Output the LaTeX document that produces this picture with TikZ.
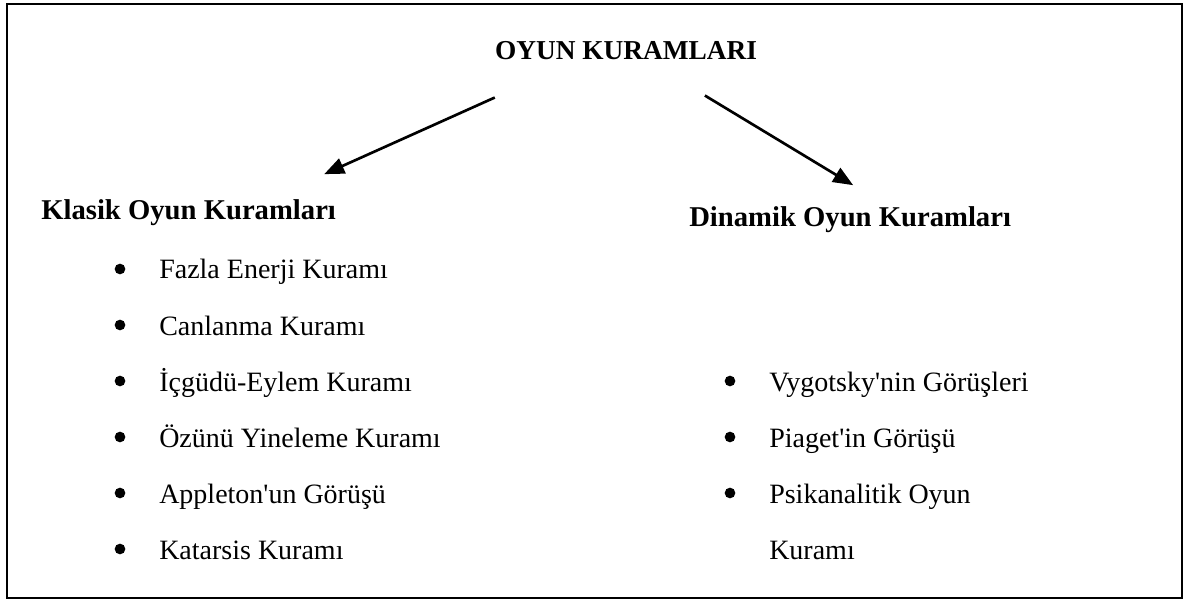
\documentclass[tikz,border=0pt]{standalone}
\usepackage{fontspec}
\setmainfont{Liberation Serif}[Ligatures=TeXOff]
\usetikzlibrary{arrows.meta}

\tikzset{
  head/.style={font=\fontsize{21.5}{26}\selectfont\bfseries, inner sep=0.75pt},
  item/.style={font=\fontsize{21}{26}\selectfont, inner sep=0.75pt, anchor=base west},
  bul/.style={circle, fill, inner sep=0pt, minimum size=8pt},
  arr/.style={line width=2pt, -{Triangle[length=15pt,width=12pt]}}
}

\begin{document}
\begin{tikzpicture}[x=0.75pt,y=0.75pt,yscale=-1,xscale=1]
\useasboundingbox (0,0) rectangle (1189,602);

%Shape: Frame
\draw [line width=1.6pt] (7,4) rectangle (1182,598);

% Text Node: title
\draw (626,60) node [head, anchor=base, font=\fontsize{20.5}{24}\selectfont\bfseries] (title) {OYUN KURAMLARI};
% Text Node: left heading
\draw (40,220) node [head, anchor=base west] (klasik) {Klasik Oyun Kuramları};
% Text Node: right heading
\draw (688,227) node [head, anchor=base west] (dinamik) {Dinamik Oyun Kuramları};

% Arrows
\draw [arr] ([xshift=0.75pt,yshift=27pt]title.south west) -- ([xshift=-9.75pt,yshift=-18.5pt]klasik.north east);
\draw [arr] ([xshift=-40pt,yshift=25.5pt]title.south east) -- ([xshift=2.25pt,yshift=-15.5pt]dinamik.north);

% Left list
\foreach \txt [count=\i] in {Fazla Enerji Kuramı, Canlanma Kuramı, İçgüdü-Eylem Kuramı, Özünü Yineleme Kuramı, Appleton'un Görüşü, Katarsis Kuramı}
{
  \draw (120,{269+56*(\i-1)}) node [bul] (kb\i) {};
  \draw (158,{279+56*(\i-1)}) node [item] (k\i) {\txt};
}

% Right list
\foreach \txt [count=\i] in {Vygotsky'nin Görüşleri, Piaget'in Görüşü, Psikanalitik Oyun}
{
  \draw (730,{381+56*(\i-1)}) node [bul] (db\i) {};
  \draw (768,{391+56*(\i-1)}) node [item] (d\i) {\txt};
}
\draw (768,559) node [item] (d4) {Kuramı};

\end{tikzpicture}
\end{document}
